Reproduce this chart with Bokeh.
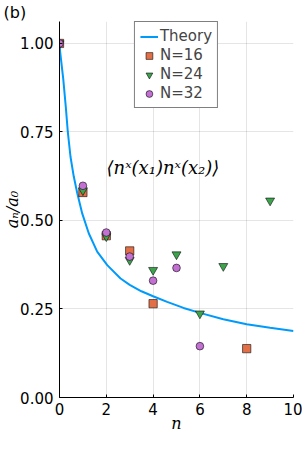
import math
from bokeh.plotting import figure
from bokeh.models import Range1d, Label, Legend, LegendItem, FixedTicker
from bokeh.embed import file_html
from bokeh.resources import INLINE

# ---- data ----
theory_n = [0.0, 0.03, 0.16, 0.27, 0.355, 0.47, 0.61, 0.76, 0.97, 1.25, 1.61, 2.04,
            2.61, 3.0, 3.5, 4.0, 4.6, 5.3, 6.0, 7.0, 8.0, 9.0, 10.0]
theory_a = [1.0, 0.975, 0.90, 0.82, 0.75, 0.68, 0.624, 0.577, 0.52, 0.464, 0.412, 0.374,
            0.336, 0.318, 0.300, 0.286, 0.270, 0.253, 0.239, 0.221, 0.207, 0.197, 0.188]

n16 = [0, 1, 2, 3, 4, 8]
a16 = [1.0, 0.579, 0.457, 0.414, 0.265, 0.138]

n24 = [0, 1, 2, 3, 4, 5, 6, 7, 9]
a24 = [1.0, 0.585, 0.455, 0.388, 0.360, 0.404, 0.237, 0.371, 0.556]

n32 = [0, 1, 2, 3, 4, 5, 6]
a32 = [1.0, 0.598, 0.466, 0.398, 0.330, 0.366, 0.145]

xticks = [0, 2, 4, 6, 8, 10]
xtick_labels = ["0", "2", "4", "6", "8", "10"]
yticks = [0.0, 0.25, 0.5, 0.75, 1.0]
ytick_labels = ["0.00", "0.25", "0.50", "0.75", "1.00"]

series_labels = ["Theory", "N=16", "N=24", "N=32"]
annotation_text = "⟨nˣ(x₁)nˣ(x₂)⟩"
ylabel_text = "aₙ/a₀"
xlabel_text = "n"
panel_text = "(b)"

# ---- styling ----
c_theory = "#009AFA"
c16 = "#E26F46"
c24 = "#3DA44D"
c32 = "#C271D2"
tick_font = "DejaVu Sans"

p = figure(width=302, height=454, output_backend="svg", toolbar_location=None,
           x_range=Range1d(0, 10), y_range=Range1d(0, 1.062),
           min_border_left=59, min_border_right=9, min_border_top=0,
           min_border_bottom=57)
p.outline_line_color = None
p.background_fill_color = "white"

# panel tag as the plot title
p.title.text = panel_text
p.title.align = "left"
p.title.offset = -56
p.title.standoff = 0
p.title.text_font = tick_font
p.title.text_font_style = "normal"
p.title.text_font_size = "16px"
p.title.text_color = "black"

# grid
for g in (p.xgrid, p.ygrid):
    g.grid_line_color = "black"
    g.grid_line_alpha = 0.1
    g.grid_line_width = 1
p.xgrid.ticker = FixedTicker(ticks=xticks)
p.ygrid.ticker = FixedTicker(ticks=yticks)

# axes
p.xaxis.ticker = FixedTicker(ticks=xticks)
p.yaxis.ticker = FixedTicker(ticks=yticks)
p.xaxis.major_label_overrides = {t: l for t, l in zip(xticks, xtick_labels)}
p.yaxis.major_label_overrides = {t: l for t, l in zip(yticks, ytick_labels)}
for ax in (p.xaxis, p.yaxis):
    ax.axis_line_color = "black"
    ax.axis_line_width = 1
    ax.major_tick_in = 3
    ax.major_tick_out = 0
    ax.minor_tick_line_color = None
    ax.major_tick_line_color = "black"
    ax.major_label_text_font = tick_font
    ax.major_label_text_font_size = "15px"
    ax.major_label_text_color = "black"
    ax.axis_label_text_font = "DejaVu Serif"
    ax.axis_label_text_font_style = "italic"
    ax.axis_label_text_font_size = "16px"
    ax.axis_label_text_color = "black"
p.xaxis.axis_label_standoff = -4
p.yaxis.axis_label_standoff = -5
p.xaxis.major_label_standoff = 5
p.yaxis.major_label_standoff = 6
p.xaxis.axis_label = xlabel_text
p.yaxis.axis_label = ylabel_text

# glyphs
r_th = p.line(theory_n, theory_a, line_color=c_theory, line_width=2)
r16 = p.scatter(n16, a16, marker="square", size=8.3, fill_color=c16,
                line_color="black", line_alpha=0.7, line_width=0.8)
r24 = p.scatter(n24, a24, marker="inverted_triangle", size=9, fill_color=c24,
                line_color="black", line_alpha=0.7, line_width=0.8)
r32 = p.scatter(n32, a32, marker="circle", size=7.7, fill_color=c32,
                line_color="black", line_alpha=0.7, line_width=0.8)

legend = Legend(items=[LegendItem(label=series_labels[0], renderers=[r_th]),
                       LegendItem(label=series_labels[1], renderers=[r16]),
                       LegendItem(label=series_labels[2], renderers=[r24]),
                       LegendItem(label=series_labels[3], renderers=[r32])],
                location="top_center", margin=0, padding=5, spacing=1,
                glyph_width=18, glyph_height=17, label_height=17, label_standoff=2,
                label_text_font=tick_font, label_text_font_size="15px",
                border_line_color="black", border_line_width=1,
                background_fill_color="white", background_fill_alpha=1)
p.add_layout(legend)

# text annotation inside the frame
p.add_layout(Label(x=4.42, y=0.649, text=annotation_text, text_align="center",
                   text_baseline="middle", text_font="DejaVu Serif",
                   text_font_style="italic", text_font_size="18px", text_color="black"))

open("out.html", "w").write(file_html(p, INLINE))
